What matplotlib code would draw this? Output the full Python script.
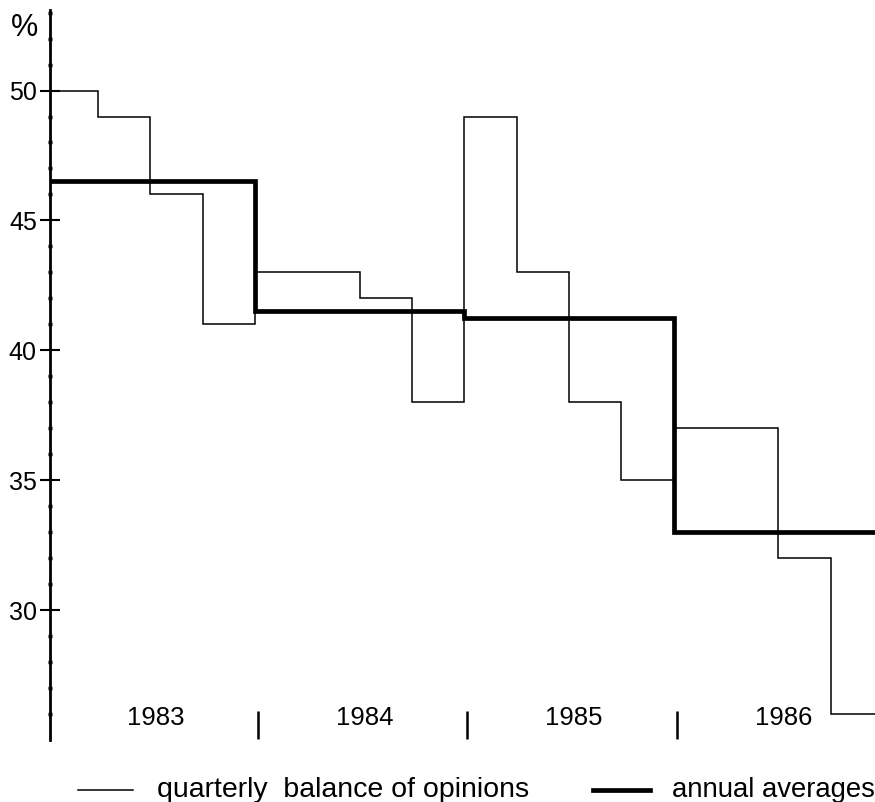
import matplotlib.pyplot as plt
import numpy as np

plt.rcParams['font.family'] = ['Liberation Sans', 'DejaVu Sans']

# quarterly balance of opinions, 1983 Q1 .. 1986 Q4 (%)
quarterly = [50, 49, 46, 41, 43, 43, 42, 38, 49, 43, 38, 35, 37, 37, 32, 26]
# annual averages (%)
annual = [46.5, 41.5, 41.25, 33]
years = ['1983', '1984', '1985', '1986']

q_edges = np.arange(len(quarterly) + 1)
y_edges = np.arange(len(annual) + 1) * 4

fig = plt.figure(figsize=(8.75, 8.02), dpi=100)
ax = fig.add_axes([50 / 875, 62 / 802, 825 / 875, 730 / 802])

ax.stairs(quarterly, q_edges, baseline=None, color='black', lw=1.1)
ax.stairs(annual, y_edges, baseline=None, color='black', lw=3.4)

ax.set_xlim(0.08, 15.85)
ax.set_ylim(25, 53.1)

for s in ['top', 'right', 'bottom']:
    ax.spines[s].set_visible(False)
ax.spines['left'].set_linewidth(2)

ax.set_xticks([])
ax.set_yticks([30, 35, 40, 45, 50])
ax.set_yticks([v for v in range(26, 54) if v % 5 != 0], minor=True)
ax.tick_params(axis='y', which='major', direction='inout', length=15, width=1.5,
               labelsize=18, pad=2)
ax.tick_params(axis='y', which='minor', direction='inout', length=3, width=2.5)

# year separators and labels along the bottom
ax.vlines(y_edges[1:-1] + 0.06, 25.05, 26.1, color='black', lw=1.8)
for i, yr in enumerate(years):
    ax.text(y_edges[i] + 2.1, 25.85, yr, ha='center', va='center', fontsize=18.5)

fig.text(25 / 875, 1 - 28 / 802, '%', ha='center', va='center', fontsize=22)

# legend drawn by hand
ly = 1 - 790 / 802
fig.add_artist(plt.Line2D([78 / 875, 133 / 875], [ly, ly], color='black', lw=1.1))
fig.text(157 / 875, 1 - 797 / 802, 'quarterly  balance of opinions', ha='left',
         va='baseline', fontsize=20.5)
fig.add_artist(plt.Line2D([593 / 875, 650 / 875], [ly, ly], color='black', lw=3.4))
fig.text(672 / 875, 1 - 797 / 802, 'annual averages', ha='left',
         va='baseline', fontsize=19.8)

fig.savefig('out.png', dpi=100)
